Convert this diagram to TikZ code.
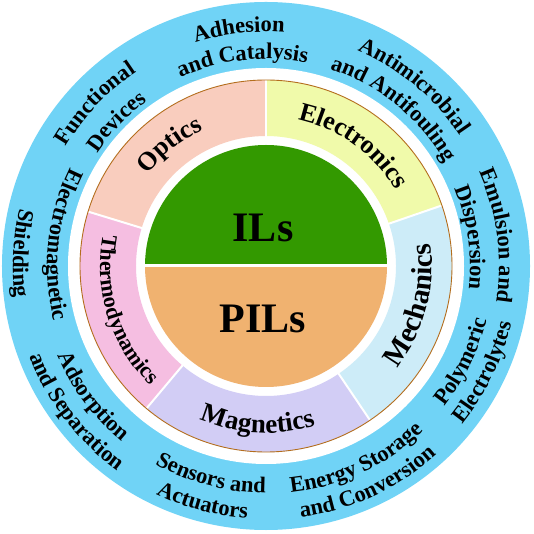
\documentclass[tikz,border=0pt]{standalone}
\usepackage{fontspec}
\setmainfont{Liberation Serif}
\usetikzlibrary{decorations.text}
\definecolor{ringblue}{RGB}{112,211,246}
\definecolor{optc}{RGB}{249,205,190}
\definecolor{elec}{RGB}{240,250,170}
\definecolor{mech}{RGB}{205,236,248}
\definecolor{magn}{RGB}{210,205,245}
\definecolor{ther}{RGB}{245,190,225}
\definecolor{ilgreen}{RGB}{51,153,0}
\definecolor{pilorange}{RGB}{240,178,112}
\definecolor{rimbrown}{RGB}{180,110,30}
\newcommand\ofont{\fontsize{22.5}{22.5}\selectfont\bfseries}
\newcommand\mfont{\fontsize{26}{26}\selectfont\bfseries}
\newcommand\mechfont{\fontsize{29}{29}\selectfont\bfseries}
\newcommand\magfont{\fontsize{27}{27}\selectfont\bfseries}
\newcommand\tfont{\fontsize{22}{22}\selectfont\bfseries}
% clockwise text (tops outward): angle, radius, font, text
\newcommand\cwlabel[4]{%
  \path[decorate,decoration={text along path,text align=center,text={|#3|#4}}]
    ({#1+70}:#2pt) arc[start angle={#1+70},end angle={#1-70},radius=#2pt];}
% counterclockwise text (tops inward)
\newcommand\ccwlabel[4]{%
  \path[decorate,decoration={text along path,text align=center,text={|#3|#4}}]
    ({#1-70}:#2pt) arc[start angle={#1-70},end angle={#1+70},radius=#2pt];}
\newcommand\sector[3]{% start, end, colour
  \fill[#3] (#1:130pt) arc[start angle=#1,end angle=#2,radius=130pt]
    -- (#2:186pt) arc[start angle=#2,end angle=#1,radius=186pt] -- cycle;}
\tikzset{
  sepline/.style={white,line width=2pt},
  bigtext/.style={font=\fontsize{42}{42}\selectfont\bfseries,anchor=base,inner sep=0pt}
}
\begin{document}
\begin{tikzpicture}
\useasboundingbox (-266pt,-268pt) rectangle (268pt,266pt);
\fill[white] (-266pt,-268pt) rectangle (268pt,266pt);
% outer ring
\fill[ringblue] (0,0) circle (264pt);
\fill[white] (0,0) circle (198pt);
% middle ring sectors
\sector{90}{163}{optc}
\sector{19}{90}{elec}
\sector{-56}{19}{mech}
\sector{-130}{-56}{magn}
\sector{163}{230}{ther}
\foreach \a in {90,19,-56,-130,163}
  \draw[sepline] (\a:129pt) -- (\a:187pt);
\draw[rimbrown,line width=0.9pt] (0,0) circle (186pt);
% inner halves
\fill[ilgreen] (0:121pt) arc[start angle=0,end angle=180,radius=121pt] -- cycle;
\fill[pilorange] (180:121pt) arc[start angle=180,end angle=360,radius=121pt] -- cycle;
\draw[white,line width=3pt] (-123pt,0) -- (123pt,0);
\node[bigtext] (ils) at (-3pt,24pt) {ILs};
\node[bigtext] (pils) at (-3pt,-67pt) {PILs};
% middle ring labels
\cwlabel{128.5}{150}{\mfont}{Optics}
\cwlabel{54}{150}{\mfont}{Electronics}
\ccwlabel{-15}{166}{\mechfont}{Mechanics}
\ccwlabel{-93}{167}{\magfont}{Magnetics}
\ccwlabel{197.5}{166}{\tfont}{Thermodynamics}
% outer ring labels
\cwlabel{96.5}{234}{\ofont}{Adhesion}
\cwlabel{96.5}{207}{\ofont}{and Catalysis}
\cwlabel{50.5}{234}{\ofont}{Antimicrobial}
\cwlabel{51}{207}{\ofont}{and Antifouling}
\cwlabel{7.5}{233}{\ofont}{Emulsion and}
\cwlabel{8}{204}{\ofont}{Dispersion}
\cwlabel{136.5}{233}{\ofont}{Functional}
\cwlabel{136}{203}{\ofont}{Devices}
\ccwlabel{-26}{227}{\ofont}{Polymeric}
\ccwlabel{-26}{252}{\ofont}{Electrolytes}
\ccwlabel{-65}{228}{\ofont}{Energy Storage}
\ccwlabel{-65}{254}{\ofont}{and Conversion}
\ccwlabel{-104.7}{227}{\ofont}{Sensors and}
\ccwlabel{-105}{253}{\ofont}{Actuators}
\ccwlabel{-143}{227}{\ofont}{Adsorption}
\ccwlabel{-142.5}{253}{\ofont}{and Separation}
\ccwlabel{174}{219}{\ofont}{Electromagnetic}
\ccwlabel{177}{253}{\ofont}{Shielding}
\end{tikzpicture}
\end{document}
